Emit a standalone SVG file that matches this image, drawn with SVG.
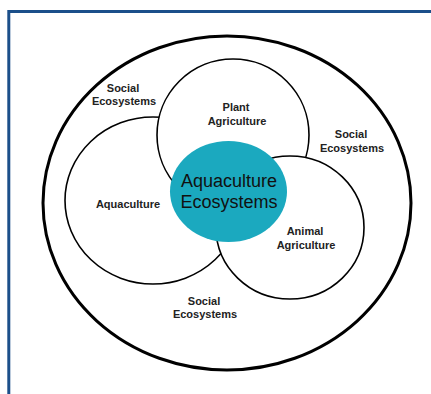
<svg xmlns="http://www.w3.org/2000/svg" width="431" height="394" viewBox="0 0 431 394">
  <style>
    .ring { fill: #ffffff; stroke: #000000; stroke-width: 1.6; }
    .lbl { font-family: "Liberation Sans", Arial, sans-serif; font-size: 11px; font-weight: bold; fill: #222222; text-anchor: middle; }
    .core { font-family: "Liberation Sans", Arial, sans-serif; font-size: 18px; fill: #111111; text-anchor: middle; }
  </style>
  <rect x="0" y="0" width="431" height="394" fill="#ffffff"/>
  <!-- frame -->
  <path d="M8.8,394 V11.5 H431" fill="none" stroke="#1b4f8a" stroke-width="3"/>

  <g id="social">
    <ellipse cx="227" cy="203" rx="184" ry="167" fill="#ffffff" stroke="#000000" stroke-width="3"/>
    <text class="lbl" x="123" y="92">Social</text>
    <text class="lbl" x="124" y="105">Ecosystems</text>
    <text class="lbl" x="351" y="138">Social</text>
    <text class="lbl" x="352" y="152">Ecosystems</text>
    <text class="lbl" x="204" y="305">Social</text>
    <text class="lbl" x="205" y="318">Ecosystems</text>
  </g>

  <g id="aquaculture">
    <ellipse class="ring" cx="153" cy="200.5" rx="88" ry="83.5"/>
    <text class="lbl" x="128" y="208">Aquaculture</text>
  </g>

  <g id="plant-agriculture">
    <circle class="ring" cx="233" cy="135" r="76"/>
    <text class="lbl" x="236" y="111">Plant</text>
    <text class="lbl" x="237" y="125">Agriculture</text>
  </g>

  <g id="animal-agriculture">
    <ellipse class="ring" cx="290" cy="227.5" rx="74" ry="71.5"/>
    <text class="lbl" x="305" y="235">Animal</text>
    <text class="lbl" x="306" y="249">Agriculture</text>
  </g>

  <g id="aquaculture-ecosystems">
    <ellipse cx="228.5" cy="191.5" rx="58.5" ry="50.5" fill="#1ba9bf"/>
    <text class="core" x="229" y="187">Aquaculture</text>
    <text class="core" x="229" y="208">Ecosystems</text>
  </g>

  <g id="connectors"></g>
</svg>
